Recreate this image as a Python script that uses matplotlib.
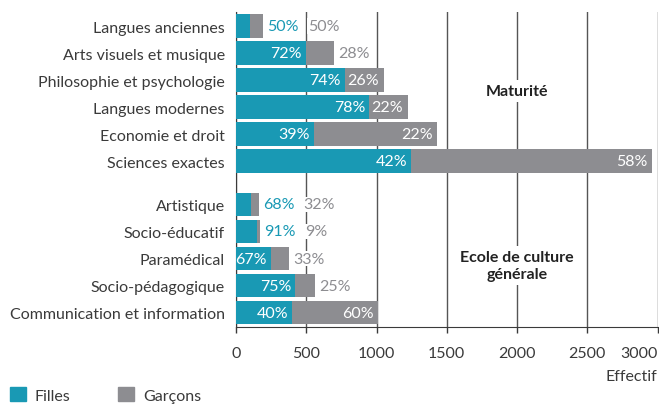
import numpy as np
import matplotlib
matplotlib.use('Agg')
import matplotlib.pyplot as plt
from matplotlib.patches import Patch

plt.rcParams['font.family'] = ['Lato', 'DejaVu Sans']

# données
categories = ['Langues anciennes', 'Arts visuels et musique', 'Philosophie et psychologie',
              'Langues modernes', 'Economie et droit', 'Sciences exactes',
              'Artistique', 'Socio-éducatif', 'Paramédical', 'Socio-pédagogique',
              'Communication et information']
filles = [97, 500, 777, 948, 557, 1247, 109, 152, 251, 422, 401]
garcons = [97, 199, 277, 277, 875, 1714, 57, 21, 128, 142, 611]
pct_filles = ['50%', '72%', '74%', '78%', '39%', '42%', '68%', '91%', '67%', '75%', '40%']
pct_garcons = ['50%', '28%', '26%', '22%', '22%', '58%', '32%', '9%', '33%', '25%', '60%']
ticks = [0, 500, 1000, 1500, 2000, 2500, 3000]

teal = '#1999b4'
grey = '#8d8d91'
txt = '#3a3a3a'
fs = 11.5

# positions: 6 + 5 avec un espace entre les groupes
ypos = np.concatenate([np.arange(6), np.arange(5) + 6.6])

fig = plt.figure(figsize=(6.59, 4.06), dpi=100)
ax = fig.add_axes([0.358, 0.191, 0.640, 0.777])

ax.barh(ypos, filles, height=0.88, color=teal, zorder=3)
ax.barh(ypos, garcons, left=filles, height=0.88, color=grey, zorder=3)

ax.set_xlim(0, 3000)
ax.set_ylim(11.15, -0.52)
ax.set_yticks(ypos)
ax.set_yticklabels(categories, fontsize=fs, color=txt)
ax.tick_params(axis='y', length=0, pad=8)
ax.set_xticks(ticks)
ax.set_xticklabels([str(t) for t in ticks], fontsize=fs, color=txt)
ax.get_xticklabels()[-1].set_horizontalalignment('right')
ax.tick_params(axis='x', length=4, width=1, color=txt, pad=9)
ax.xaxis.grid(True, color='#555555', linewidth=1, zorder=0)
for s in ['top', 'right']:
    ax.spines[s].set_visible(False)
ax.spines['left'].set_color(txt)
ax.spines['bottom'].set_color(txt)
ax.set_axisbelow(True)

limit = 220
box = dict(facecolor='white', edgecolor='none', pad=0.5)
for y, f, g, pf, pg in zip(ypos, filles, garcons, pct_filles, pct_garcons):
    tot = f + g
    if f >= limit:
        ax.annotate(pf, (f, y), xytext=(-3, 0), textcoords='offset points',
                    ha='right', va='center', color='white', fontsize=fs, zorder=4)
        if g >= limit:
            ax.annotate(pg, (tot, y), xytext=(-3.5, 0), textcoords='offset points',
                        ha='right', va='center', color='white', fontsize=fs, zorder=4)
        else:
            ax.annotate(pg, (tot, y), xytext=(3, 0), textcoords='offset points',
                        ha='left', va='center', color=grey, fontsize=fs, zorder=4, bbox=box)
    else:
        ax.annotate(pf, (tot, y), xytext=(2.5, 0), textcoords='offset points',
                    ha='left', va='center', color=teal, fontsize=fs, zorder=4, bbox=box)
        ax.annotate(pg, (tot, y), xytext=(32, 0), textcoords='offset points',
                    ha='left', va='center', color=grey, fontsize=fs, zorder=4, bbox=box)

ax.text(2000, 2.4, 'Maturité', ha='center', va='center', fontsize=fs,
        fontweight='bold', color='#222222', zorder=2,
        bbox=dict(facecolor='white', edgecolor='none', pad=3))
ax.text(2000, 8.85, 'Ecole de culture\ngénérale', ha='center', va='center',
        fontsize=fs, fontweight='bold', color='#222222', zorder=2, linespacing=1.25,
        bbox=dict(facecolor='white', edgecolor='none', pad=3))

ax.set_xlabel('Effectif', loc='right', fontsize=fs, color=txt, labelpad=7)

handles = [Patch(color=teal), Patch(color=grey)]
fig.legend(handles, ['Filles', 'Garçons'], loc='lower left', bbox_to_anchor=(0.0, -0.018),
           ncol=2, frameon=False, fontsize=fs, handlelength=1.0, handleheight=1.0,
           handletextpad=0.55, columnspacing=3.0, labelcolor=txt, borderaxespad=0.2)

fig.savefig('out.png', dpi=100)
